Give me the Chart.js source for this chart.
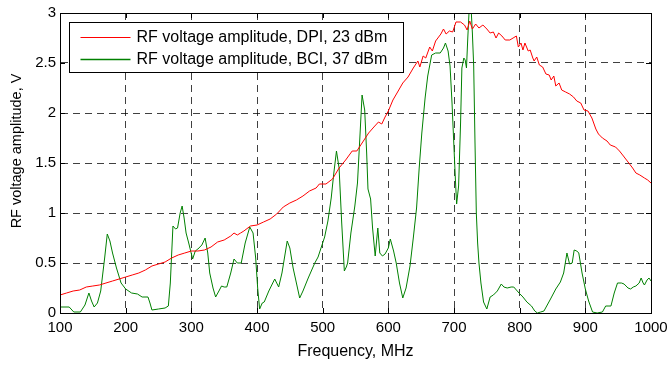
<!DOCTYPE html>
<html>
<head>
<meta charset="utf-8">
<script src="https://cdn.jsdelivr.net/npm/chart.js@4/dist/chart.umd.min.js"></script>
<style>
html,body{margin:0;padding:0;background:#fff;}
#wrap{width:668px;height:365px;position:relative;}
</style>
</head>
<body>
<div id="wrap"><canvas id="c" width="668" height="365"></canvas></div>
<script>
// ---- data ----
const seriesLabels = ['RF voltage amplitude, DPI, 23 dBm', 'RF voltage amplitude, BCI, 37 dBm'];
const xTitle = 'Frequency, MHz';
const yTitle = 'RF voltage amplitude, V';
const xTickValues = [100, 200, 300, 400, 500, 600, 700, 800, 900, 1000];
const yTickValues = [0, 0.5, 1, 1.5, 2, 2.5, 3];

const freqDPI = [100,110,120,130,140,150,160,170,180,190,200,210,220,230,240,250,260,270,280,290,300,310,320,330,340,350,360,365,370,375,380,390,400,410,420,430,440,450,460,470,480,490,495,505,515,525,535,545,552,560,570,578,585,590,595,600,607,615,622,630,638,645,648,653,657,663,667,672,680,684,688,693,698,703,710,716,720,724,728,733,738,744,750,755,760,764,768,773,778,785,790,795,798,802,805,808,813,816,820,822,826,830,835,840,845,848,852,855,860,864,870,876,882,887,893,898,904,910,916,920,926,933,938,946,952,958,965,972,977,983,990,995,1000];
const voltDPI = [0.18,0.20,0.22,0.23,0.26,0.27,0.28,0.30,0.32,0.34,0.36,0.38,0.40,0.43,0.47,0.49,0.51,0.55,0.58,0.60,0.62,0.62,0.63,0.66,0.71,0.73,0.77,0.80,0.78,0.80,0.82,0.87,0.88,0.91,0.94,0.99,1.06,1.10,1.13,1.17,1.22,1.25,1.29,1.29,1.34,1.45,1.53,1.62,1.62,1.70,1.80,1.86,1.91,1.89,1.96,2.02,2.13,2.22,2.30,2.36,2.45,2.52,2.46,2.57,2.55,2.66,2.62,2.72,2.79,2.84,2.79,2.82,2.81,2.91,2.91,2.88,2.83,2.92,2.84,2.89,2.85,2.88,2.84,2.80,2.81,2.75,2.80,2.77,2.73,2.73,2.75,2.77,2.66,2.70,2.63,2.70,2.62,2.63,2.55,2.52,2.56,2.48,2.46,2.39,2.38,2.33,2.37,2.27,2.30,2.23,2.21,2.19,2.16,2.12,2.10,2.03,2.02,1.95,1.84,1.79,1.75,1.72,1.68,1.66,1.62,1.57,1.51,1.45,1.40,1.38,1.35,1.33,1.30];

const freqBCI = [100,114,121,131,138,144,148,152,157,162,168,172,176,180,186,193,200,209,218,225,234,237,240,250,260,265,268,272,276,279,283,286,289,292,296,302,306,310,316,321,325,328,333,337,342,346,350,354,360,365,370,376,382,389,394,398,401,404,408,411,418,427,433,438,446,450,455,460,465,470,478,488,493,498,503,508,513,517,521,525,529,533,536,538,543,549,553,557,560,564,567,569,573,576,580,584,587,591,595,600,603,608,612,617,622,627,633,638,643,647,651,656,660,666,672,679,684,687,691,694,697,699,702,704,707,710,712,715,717,719,721,723,726,728,730,732,734,736,738,741,745,750,755,760,766,772,776,781,787,791,799,805,811,818,823,827,832,837,842,847,855,862,867,872,876,880,883,887,890,895,900,905,911,918,926,931,936,939,944,949,955,959,965,969,973,977,982,985,988,990,994,997,1000];
const voltBCI = [0.06,0.06,0.01,0.01,0.08,0.20,0.12,0.06,0.10,0.22,0.55,0.79,0.72,0.60,0.45,0.30,0.24,0.20,0.19,0.16,0.16,0.10,0.03,0.04,0.05,0.07,0.30,0.87,0.84,0.85,1.00,1.07,0.95,0.80,0.70,0.54,0.62,0.64,0.68,0.75,0.60,0.40,0.25,0.16,0.22,0.27,0.26,0.26,0.40,0.54,0.50,0.50,0.70,0.86,0.80,0.55,0.25,0.04,0.10,0.11,0.22,0.34,0.26,0.40,0.72,0.65,0.45,0.30,0.15,0.22,0.35,0.50,0.56,0.66,0.76,0.92,1.15,1.40,1.62,1.45,0.90,0.42,0.46,0.50,0.80,1.07,1.30,1.80,2.18,2.03,1.60,1.24,1.14,0.85,0.57,0.85,0.60,0.57,0.59,0.65,0.74,0.62,0.50,0.30,0.15,0.25,0.47,0.75,1.05,1.45,1.80,2.15,2.37,2.58,2.60,2.60,2.65,2.70,2.62,2.47,2.10,1.80,1.35,1.09,1.27,1.90,2.45,2.55,2.53,2.45,2.75,3.02,3.05,2.80,2.47,1.70,1.00,0.70,0.50,0.30,0.11,0.04,0.16,0.18,0.22,0.29,0.26,0.25,0.26,0.26,0.20,0.16,0.11,0.07,0.02,0.00,0.01,0.02,0.08,0.14,0.24,0.31,0.40,0.60,0.49,0.50,0.63,0.62,0.60,0.40,0.24,0.12,0.01,0.00,0.01,0.07,0.07,0.07,0.20,0.30,0.30,0.29,0.25,0.24,0.26,0.27,0.30,0.35,0.30,0.28,0.33,0.35,0.32];

const seriesColors = ['#ff0000', '#008000'];

const FONT = '"Liberation Sans", Arial, Helvetica, sans-serif';

function pts(xs, ys) { return xs.map((x, i) => ({x: x, y: ys[i]})); }

// frame, inward ticks, y title and legend
const framePlugin = {
  id: 'frame',
  afterDatasetsDraw(chart) {
    const ctx = chart.ctx, a = chart.chartArea;
    const xs = chart.scales.x, ys = chart.scales.y;
    ctx.save();
    ctx.strokeStyle = '#000';
    ctx.lineWidth = 1;
    ctx.setLineDash([]);
    ctx.strokeRect(Math.round(a.left) + 0.5, Math.round(a.top) + 0.5, Math.round(a.right - a.left), Math.round(a.bottom - a.top));
    const tl = 5;
    ctx.beginPath();
    xs.ticks.forEach(t => {
      const px = Math.round(xs.getPixelForValue(t.value)) + 0.5;
      ctx.moveTo(px, a.bottom); ctx.lineTo(px, a.bottom - tl);
      ctx.moveTo(px, a.top); ctx.lineTo(px, a.top + tl);
    });
    ys.ticks.forEach(t => {
      const py = Math.round(ys.getPixelForValue(t.value)) + 0.5;
      ctx.moveTo(a.left, py); ctx.lineTo(a.left + tl, py);
      ctx.moveTo(a.right, py); ctx.lineTo(a.right - tl, py);
    });
    ctx.stroke();

    // y axis title (slightly above centre, as in the reference)
    ctx.save();
    ctx.translate(17, (a.top + a.bottom) / 2 - 12);
    ctx.rotate(-Math.PI / 2);
    ctx.font = '14.5px ' + FONT;
    ctx.fillStyle = '#000';
    ctx.textAlign = 'center';
    ctx.textBaseline = 'middle';
    ctx.fillText(yTitle, 0, 0);
    ctx.restore();

    // legend box
    const lx = Math.round(a.left) + 9.5, ly = Math.round(a.top) + 9.5;
    const lw = 334, lh = 50;
    ctx.fillStyle = '#fff';
    ctx.fillRect(lx, ly, lw, lh);
    ctx.strokeRect(lx, ly, lw, lh);
    ctx.font = '16px ' + FONT;
    ctx.textBaseline = 'middle';
    ctx.textAlign = 'left';
    chart.data.datasets.forEach((ds, i) => {
      const cy = ly + 14 + i * 22;
      ctx.strokeStyle = ds.borderColor;
      ctx.lineWidth = i === 0 ? 1 : 1.6;
      ctx.beginPath();
      ctx.moveTo(lx + 11, Math.round(cy) + 0.5);
      ctx.lineTo(lx + 61, Math.round(cy) + 0.5);
      ctx.stroke();
      ctx.fillStyle = '#000';
      ctx.fillText(ds.label, lx + 67, cy + 1);
    });
    ctx.restore();
  }
};

new Chart(document.getElementById('c'), {
  type: 'line',
  data: {
    datasets: [
      {label: seriesLabels[0], data: pts(freqDPI, voltDPI), borderColor: seriesColors[0], borderWidth: 1, pointRadius: 0, tension: 0, fill: false},
      {label: seriesLabels[1], data: pts(freqBCI, voltBCI), borderColor: seriesColors[1], borderWidth: 1, pointRadius: 0, tension: 0, fill: false}
    ]
  },
  options: {
    responsive: false,
    animation: false,
    events: [],
    layout: {padding: {top: 13, right: 17, left: 0, bottom: 0}},
    plugins: {legend: {display: false}, tooltip: {enabled: false}},
    scales: {
      x: {
        type: 'linear', min: 100, max: 1000,
        afterBuildTicks: s => { s.ticks = xTickValues.map(v => ({value: v})); },
        afterFit: s => { s.height = 52; s.paddingLeft = 0; s.paddingRight = 0; },
        ticks: {color: '#000', font: {family: FONT, size: 15}, padding: 6, maxRotation: 0, autoSkip: false,
                callback: v => String(v)},
        grid: {color: 'rgba(0,0,0,0.75)', lineWidth: 1, drawTicks: false},
        border: {display: true, color: '#000', dash: [7, 5]},
        title: {display: true, text: xTitle, color: '#000', font: {family: FONT, size: 16}, padding: {top: 0, bottom: 4}}
      },
      y: {
        type: 'linear', min: 0, max: 3,
        afterBuildTicks: s => { s.ticks = yTickValues.map(v => ({value: v})); },
        afterFit: s => { s.width = 60; s.paddingTop = 0; s.paddingBottom = 0; },
        ticks: {color: '#000', font: {family: FONT, size: 15}, padding: 4,
                callback: v => String(v)},
        grid: {color: 'rgba(0,0,0,0.75)', lineWidth: 1, drawTicks: false},
        border: {display: true, color: '#000', dash: [7, 5]},
        title: {display: false, text: yTitle}
      }
    }
  },
  plugins: [framePlugin]
});
</script>
</body>
</html>
